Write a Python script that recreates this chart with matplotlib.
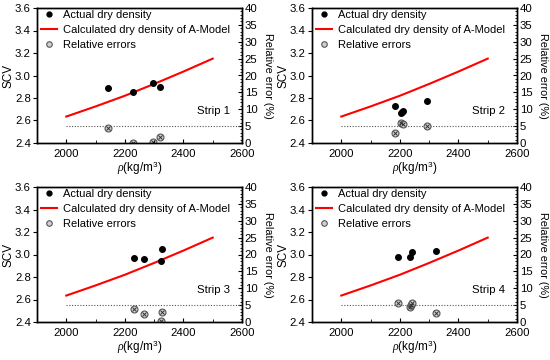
import matplotlib
matplotlib.use("Agg")
import matplotlib.pyplot as plt
from matplotlib.ticker import MultipleLocator
from matplotlib.lines import Line2D

plt.rcParams['font.family'] = ['Liberation Sans', 'DejaVu Sans']
plt.rcParams['mathtext.fontset'] = 'custom'
plt.rcParams['mathtext.it'] = 'Liberation Serif:italic'
plt.rcParams['mathtext.rm'] = 'Liberation Sans'

# Model curve (same in all panels)
model_rho = [2000, 2100, 2200, 2300, 2400, 2500]
model_scv = [2.635, 2.725, 2.82, 2.925, 3.035, 3.15]

strips = ["Strip 1", "Strip 2", "Strip 3", "Strip 4"]

actual_rho = [
    [2143, 2228, 2295, 2320],
    [2182, 2205, 2208, 2212, 2292],
    [2230, 2265, 2323, 2328],
    [2192, 2233, 2240, 2325],
]
actual_scv = [
    [2.89, 2.85, 2.93, 2.895],
    [2.725, 2.665, 2.675, 2.685, 2.775],
    [2.965, 2.96, 2.945, 3.05],
    [2.975, 2.975, 3.025, 3.035],
]
err_rho = [
    [2143, 2228, 2295, 2320],
    [2182, 2205, 2210, 2292],
    [2230, 2265, 2325, 2328],
    [2192, 2233, 2237, 2240, 2325],
]
err_val = [
    [4.4, 0.1, 0.2, 1.8],
    [3.0, 5.8, 5.5, 5.0],
    [3.8, 2.5, 0.3, 3.0],
    [5.7, 4.3, 5.0, 5.7, 2.7],
]
ref_err = 5

fig = plt.figure(figsize=(5.5, 3.6), dpi=100)
positions = [
    (37, 8), (312, 8), (37, 187), (312, 187)
]
W, H = 205, 135

for i in range(4):
    x0, y0 = positions[i]
    ax = fig.add_axes([x0 / 550, 1 - (y0 + H) / 360, W / 550, H / 360])
    ax2 = ax.twinx()
    ax.set_zorder(ax2.get_zorder() + 1)
    ax.patch.set_visible(False)

    ax.plot(model_rho, model_scv, color='red', lw=1.5,
            label='Calculated dry density of A-Model')
    ax.plot(actual_rho[i], actual_scv[i], 'o', color='black', ms=4,
            label='Actual dry density', zorder=5)
    ax2.plot([2000, 2600], [ref_err, ref_err], color='#555555', lw=0.8, ls=(0, (1, 1.5)))
    ax2.plot(err_rho[i], err_val[i], 'o', mfc='#d0d0d0', mec='#555555', ms=5, mew=0.8)
    ax2.plot(err_rho[i], err_val[i], 'x', color='#333333', ms=3, mew=0.7)

    ax.set_xlim(1900, 2600)
    ax.set_ylim(2.4, 3.6)
    ax2.set_ylim(0, 40)
    ax.xaxis.set_major_locator(MultipleLocator(200))
    ax.xaxis.set_minor_locator(MultipleLocator(100))
    ax2.yaxis.set_major_locator(MultipleLocator(5))
    ax2.yaxis.set_minor_locator(MultipleLocator(1))
    ax.set_yticks([2.4, 2.6, 2.8, 3.0, 3.2, 3.4, 3.6])
    ax.set_yticklabels(['2.4', '2.6', '2.8', '3.0', '3.2', '3.4', '3.6'])

    ax.tick_params(axis='x', which='major', direction='in', length=3, labelsize=8.2, pad=4)
    ax.tick_params(axis='x', which='minor', direction='in', length=2)
    ax.tick_params(axis='y', which='major', direction='out', length=3, labelsize=8.2, pad=1.5)
    ax2.tick_params(axis='y', which='major', direction='in', length=3, labelsize=8.2, pad=2)
    ax2.tick_params(axis='y', which='minor', direction='in', length=1.5)

    for a in (ax, ax2):
        for s in a.spines.values():
            s.set_linewidth(1.0)

    ax.set_xlabel(r'$\rho$(kg/m$^3$)', fontsize=8.5, labelpad=1)
    ax.set_ylabel('SCV', fontsize=8.5, labelpad=0.5)
    ax2.set_ylabel('Relative error (%)', fontsize=7.8, rotation=270, labelpad=11)

    ax.text(2560, 2.68, strips[i], ha='right', va='center', fontsize=8.2)

    h_act = Line2D([], [], marker='o', color='black', ls='none', ms=3.5)
    h_mod = Line2D([], [], color='red', lw=1.5)
    h_err = Line2D([], [], marker='o', mfc='#d0d0d0', mec='#555555', ls='none', ms=4, mew=0.8)
    ax.legend([h_act, h_mod, h_err],
              ['Actual dry density', 'Calculated dry density of A-Model', 'Relative errors'],
              loc='upper left', frameon=False, fontsize=8.0, handlelength=1.4,
              handletextpad=0.55, borderaxespad=0, borderpad=0, labelspacing=0.45,
              bbox_to_anchor=(0.02, 0.985))

fig.savefig('out.png', dpi=100)
